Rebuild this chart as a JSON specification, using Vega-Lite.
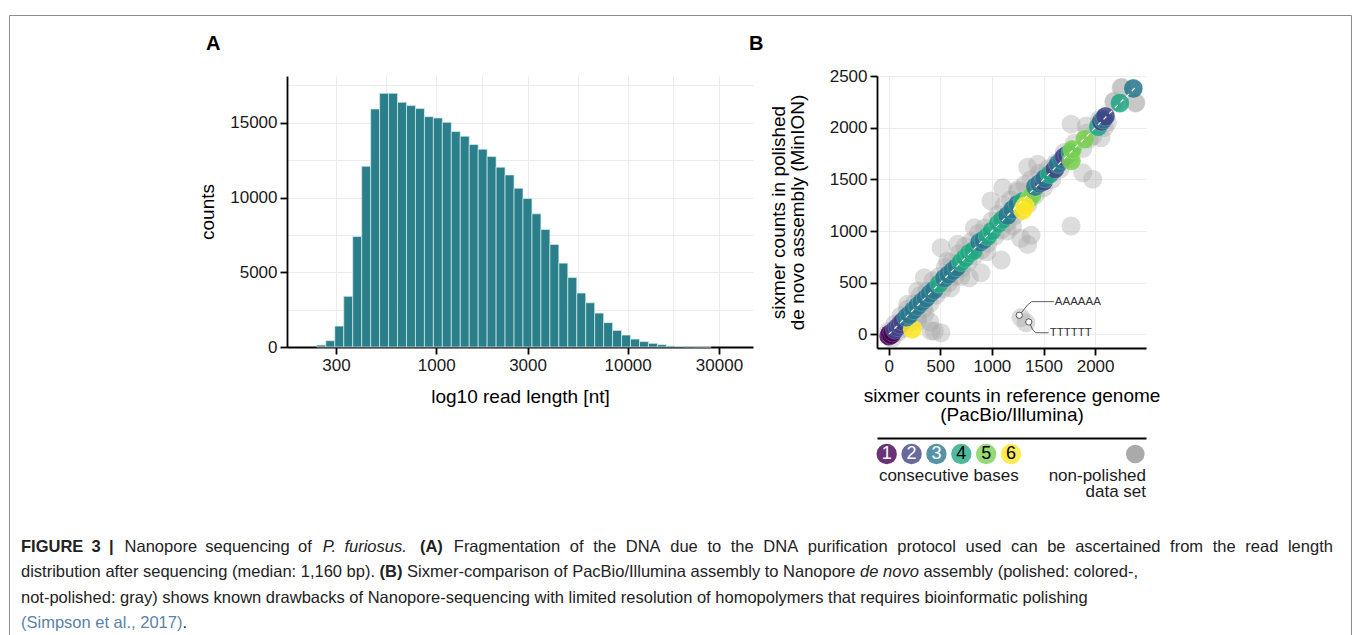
{
  "$schema": "https://vega.github.io/schema/vega-lite/v6.json",
  "background": "white",
  "padding": {"left": 8, "top": 14, "right": 0, "bottom": 0},
  "config": {
    "font": "Liberation Sans",
    "view": {"stroke": null},
    "axis": {"domainColor": "#000000", "domainWidth": 1.8, "tickColor": "#000000", "tickWidth": 1.8, "tickSize": 7, "labelFontSize": 17, "labelColor": "#1a1a1a", "labelPadding": 3, "titleFontSize": 19, "titleFontWeight": "normal", "titleColor": "#000000", "gridColor": "#ececec", "gridWidth": 1, "labelFlush": false, "labelOverlap": false},
    "title": {"font": "Liberation Sans", "fontSize": 20, "fontWeight": "bold", "color": "#000000"}
  },
  "datasets": {
    "hist": [
      {"lo": 238.2, "hi": 265.3, "count": 130}, {"lo": 265.3, "hi": 295.5, "count": 420}, {"lo": 295.5, "hi": 329.1, "count": 1400}, {"lo": 329.1, "hi": 366.6, "count": 3390},
      {"lo": 366.6, "hi": 408.3, "count": 7390}, {"lo": 408.3, "hi": 454.8, "count": 12090}, {"lo": 454.8, "hi": 506.5, "count": 15920}, {"lo": 506.5, "hi": 564.2, "count": 16970},
      {"lo": 564.2, "hi": 628.4, "count": 16970}, {"lo": 628.4, "hi": 699.8, "count": 16370}, {"lo": 699.8, "hi": 779.5, "count": 16150}, {"lo": 779.5, "hi": 868.2, "count": 15950},
      {"lo": 868.2, "hi": 967.0, "count": 15410}, {"lo": 967.0, "hi": 1077.0, "count": 15320}, {"lo": 1077.0, "hi": 1199.5, "count": 15030}, {"lo": 1199.5, "hi": 1336.0, "count": 14410},
      {"lo": 1336.0, "hi": 1488.0, "count": 14100}, {"lo": 1488.0, "hi": 1657.4, "count": 13540}, {"lo": 1657.4, "hi": 1846.0, "count": 13230}, {"lo": 1846.0, "hi": 2056.0, "count": 12740},
      {"lo": 2056.0, "hi": 2290.0, "count": 12030}, {"lo": 2290.0, "hi": 2551.0, "count": 11510}, {"lo": 2551.0, "hi": 2841.0, "count": 10620}, {"lo": 2841.0, "hi": 3164.5, "count": 9930},
      {"lo": 3164.5, "hi": 3524.5, "count": 8910}, {"lo": 3524.5, "hi": 3925.6, "count": 7860}, {"lo": 3925.6, "hi": 4372.4, "count": 6860}, {"lo": 4372.4, "hi": 4869.9, "count": 5610},
      {"lo": 4869.9, "hi": 5424.1, "count": 4650}, {"lo": 5424.1, "hi": 6039.5, "count": 3610}, {"lo": 6039.5, "hi": 6726.7, "count": 2960}, {"lo": 6726.7, "hi": 7492.2, "count": 2270},
      {"lo": 7492.2, "hi": 8344.7, "count": 1630}, {"lo": 8344.7, "hi": 9294.3, "count": 1110}, {"lo": 9294.3, "hi": 10351.9, "count": 800}, {"lo": 10351.9, "hi": 11529.9, "count": 530},
      {"lo": 11529.9, "hi": 12842, "count": 360}, {"lo": 12842, "hi": 14303, "count": 245}, {"lo": 14303, "hi": 15931, "count": 156}, {"lo": 15931, "hi": 17744, "count": 67},
      {"lo": 17744, "hi": 19763, "count": 35}, {"lo": 19763, "hi": 22012, "count": 18}, {"lo": 22012, "hi": 24517, "count": 10}, {"lo": 24517, "hi": 27307, "count": 5}
    ],
    "gray": [
      {"ref": 0, "pol": 30}, {"ref": 30, "pol": -40}, {"ref": 60, "pol": 100}, {"ref": 90, "pol": 20}, {"ref": 120, "pol": 180}, {"ref": 150, "pol": 60}, {"ref": 180, "pol": 240}, {"ref": 210, "pol": 120},
      {"ref": 250, "pol": 300}, {"ref": 280, "pol": 160}, {"ref": 310, "pol": 380}, {"ref": 340, "pol": 250}, {"ref": 370, "pol": 420}, {"ref": 400, "pol": 300}, {"ref": 430, "pol": 520}, {"ref": 460, "pol": 380},
      {"ref": 490, "pol": 560}, {"ref": 520, "pol": 440}, {"ref": 550, "pol": 650}, {"ref": 580, "pol": 500}, {"ref": 610, "pol": 700}, {"ref": 640, "pol": 560}, {"ref": 680, "pol": 780}, {"ref": 710, "pol": 640},
      {"ref": 740, "pol": 850}, {"ref": 770, "pol": 700}, {"ref": 800, "pol": 900}, {"ref": 830, "pol": 760}, {"ref": 870, "pol": 980}, {"ref": 900, "pol": 820}, {"ref": 930, "pol": 1030}, {"ref": 960, "pol": 880},
      {"ref": 1000, "pol": 1100}, {"ref": 1030, "pol": 950}, {"ref": 1060, "pol": 1160}, {"ref": 1090, "pol": 1010}, {"ref": 1120, "pol": 1250}, {"ref": 1150, "pol": 1080}, {"ref": 1180, "pol": 1300}, {"ref": 1220, "pol": 1150},
      {"ref": 1250, "pol": 1380}, {"ref": 1280, "pol": 1200}, {"ref": 1320, "pol": 1450}, {"ref": 1350, "pol": 1260}, {"ref": 1380, "pol": 1500}, {"ref": 1420, "pol": 1350}, {"ref": 1460, "pol": 1560}, {"ref": 1500, "pol": 1420},
      {"ref": 1540, "pol": 1600}, {"ref": 1580, "pol": 1500}, {"ref": 1620, "pol": 1660}, {"ref": 1660, "pol": 1600}, {"ref": 1700, "pol": 1760}, {"ref": 1750, "pol": 1700}, {"ref": 1800, "pol": 1850}, {"ref": 1880, "pol": 1800},
      {"ref": 1920, "pol": 1950}, {"ref": 1980, "pol": 1920}, {"ref": 2040, "pol": 2080}, {"ref": 2120, "pol": 2050}, {"ref": 2180, "pol": 2250}, {"ref": 2260, "pol": 2390}, {"ref": 2390, "pol": 2240},
      {"ref": 1767, "pol": 1049}, {"ref": 1379, "pol": 960}, {"ref": 1347, "pol": 870}, {"ref": 1280, "pol": 930}, {"ref": 1090, "pol": 720}, {"ref": 1104, "pol": 1420}, {"ref": 991, "pol": 1291}, {"ref": 1347, "pol": 1617},
      {"ref": 1444, "pol": 1647}, {"ref": 1913, "pol": 2017}, {"ref": 1767, "pol": 2035}, {"ref": 1941, "pol": 1890}, {"ref": 1977, "pol": 1501}, {"ref": 1880, "pol": 1565}, {"ref": 894, "pol": 597}, {"ref": 781, "pol": 549},
      {"ref": 507, "pol": 839}, {"ref": 572, "pol": 710}, {"ref": 345, "pol": 549}, {"ref": 281, "pol": 420}, {"ref": 184, "pol": 291}, {"ref": 830, "pol": 1033}, {"ref": 669, "pol": 872}, {"ref": 443, "pol": 33},
      {"ref": 507, "pol": 16}, {"ref": 410, "pol": 33}, {"ref": 281, "pol": 130}, {"ref": 1282, "pol": 162}, {"ref": 1330, "pol": 113}, {"ref": 2251, "pol": 2388}, {"ref": 2396, "pol": 2243}, {"ref": 2186, "pol": 2259},
      {"ref": 2089, "pol": 2001}, {"ref": 2057, "pol": 1904}, {"ref": 600, "pol": 450}, {"ref": 700, "pol": 560}, {"ref": 950, "pol": 800}, {"ref": 1150, "pol": 1000}, {"ref": 1200, "pol": 1050}, {"ref": 1250, "pol": 1400},
      {"ref": 400, "pol": 120}, {"ref": 350, "pol": 200}
    ],
    "colored": [
      {"ref": 0, "pol": -15, "k": 1}, {"ref": 10, "pol": 5, "k": 1}, {"ref": 25, "pol": -5, "k": 1}, {"ref": 40, "pol": 20, "k": 1}, {"ref": 60, "pol": 45, "k": 2}, {"ref": 85, "pol": 70, "k": 2},
      {"ref": 110, "pol": 95, "k": 2}, {"ref": 135, "pol": 125, "k": 2}, {"ref": 230, "pol": 50, "k": 6}, {"ref": 170, "pol": 165, "k": 3}, {"ref": 200, "pol": 190, "k": 3}, {"ref": 240, "pol": 235, "k": 3},
      {"ref": 280, "pol": 275, "k": 3}, {"ref": 320, "pol": 315, "k": 3}, {"ref": 360, "pol": 350, "k": 3}, {"ref": 400, "pol": 395, "k": 3}, {"ref": 440, "pol": 430, "k": 3}, {"ref": 490, "pol": 490, "k": 4},
      {"ref": 540, "pol": 545, "k": 3}, {"ref": 580, "pol": 580, "k": 3}, {"ref": 620, "pol": 615, "k": 3}, {"ref": 660, "pol": 650, "k": 3}, {"ref": 700, "pol": 700, "k": 4}, {"ref": 740, "pol": 740, "k": 4},
      {"ref": 780, "pol": 785, "k": 4}, {"ref": 820, "pol": 810, "k": 4}, {"ref": 880, "pol": 890, "k": 3}, {"ref": 920, "pol": 915, "k": 3}, {"ref": 960, "pol": 950, "k": 4}, {"ref": 1000, "pol": 1000, "k": 4},
      {"ref": 1060, "pol": 1070, "k": 4}, {"ref": 1100, "pol": 1110, "k": 4}, {"ref": 1150, "pol": 1150, "k": 3}, {"ref": 1200, "pol": 1210, "k": 3}, {"ref": 1250, "pol": 1260, "k": 3}, {"ref": 1300, "pol": 1290, "k": 4},
      {"ref": 1360, "pol": 1310, "k": 5}, {"ref": 1390, "pol": 1350, "k": 5}, {"ref": 1420, "pol": 1430, "k": 3}, {"ref": 1460, "pol": 1460, "k": 3}, {"ref": 1500, "pol": 1480, "k": 2}, {"ref": 1510, "pol": 1510, "k": 3},
      {"ref": 1560, "pol": 1550, "k": 4}, {"ref": 1610, "pol": 1600, "k": 2}, {"ref": 1640, "pol": 1650, "k": 3}, {"ref": 1680, "pol": 1690, "k": 3}, {"ref": 1700, "pol": 1720, "k": 2}, {"ref": 1730, "pol": 1740, "k": 2},
      {"ref": 1760, "pol": 1760, "k": 4}, {"ref": 1770, "pol": 1680, "k": 5}, {"ref": 1780, "pol": 1790, "k": 5}, {"ref": 1900, "pol": 1890, "k": 5}, {"ref": 2030, "pol": 2010, "k": 4}, {"ref": 2060, "pol": 2060, "k": 2},
      {"ref": 2080, "pol": 2080, "k": 3}, {"ref": 2100, "pol": 2110, "k": 2}, {"ref": 2240, "pol": 2240, "k": 4}, {"ref": 2370, "pol": 2380, "k": 3}, {"ref": 1300, "pol": 1200, "k": 6}, {"ref": 1320, "pol": 1240, "k": 6}
    ],
    "diag": [{"ref": 0, "pol": 0}, {"ref": 2410, "pol": 2410}],
    "conn": [
      {"label": "AAAAAA", "step": 1, "ref": 1278, "pol": 200}, {"label": "AAAAAA", "step": 2, "ref": 1345, "pol": 285}, {"label": "AAAAAA", "step": 3, "ref": 1385, "pol": 317}, {"label": "AAAAAA", "step": 4, "ref": 1600, "pol": 317},
      {"label": "TTTTTT", "step": 1, "ref": 1368, "pol": 103}, {"label": "TTTTTT", "step": 2, "ref": 1395, "pol": 45}, {"label": "TTTTTT", "step": 3, "ref": 1425, "pol": 16}, {"label": "TTTTTT", "step": 4, "ref": 1550, "pol": 16}
    ],
    "marks": [{"ref": 1265, "pol": 185}, {"ref": 1357, "pol": 120}],
    "labels": [{"label": "AAAAAA", "ref": 1600, "pol": 317}, {"label": "TTTTTT", "ref": 1550, "pol": 16}],
    "caption": [
      {"seg": "l1a", "line": 1, "txt": "FIGURE\u20023\u2002|"},
      {"seg": "l1b", "line": 1, "txt": "Nanopore\u2002sequencing\u2002of"},
      {"seg": "l1c", "line": 1, "txt": "P.\u2002furiosus."},
      {"seg": "l1d", "line": 1, "txt": "(A)"},
      {"seg": "l1e", "line": 1, "txt": "Fragmentation\u2002\u200aof\u2002\u200athe\u2002\u200aDNA\u2002\u200adue\u2002\u200ato\u2002\u200athe\u2002\u200aDNA\u2002\u200apurification\u2002\u200aprotocol\u2002\u200aused\u2002\u200acan\u2002\u200abe\u2002\u200aascertained\u2002\u200afrom\u2002\u200athe\u2002\u200aread\u2002\u200alength"},
      {"seg": "l2a", "line": 2, "txt": "distribution after sequencing (median: 1,160 bp)."},
      {"seg": "l2b", "line": 2, "txt": "(B)"},
      {"seg": "l2c", "line": 2, "txt": "Sixmer-comparison of PacBio/Illumina assembly to Nanopore"},
      {"seg": "l2d", "line": 2, "txt": "de novo"},
      {"seg": "l2e", "line": 2, "txt": "assembly (polished: colored-,"},
      {"seg": "l3a", "line": 3, "txt": "not-polished: gray) shows known drawbacks of Nanopore-sequencing with limited resolution of homopolymers that requires bioinformatic polishing"},
      {"seg": "l4a", "line": 4, "txt": "(Simpson et al., 2017)"},
      {"seg": "l4b", "line": 4, "txt": "."}
    ]
  },
  "bounds": "flush",
  "spacing": 0,
  "vconcat": [
    {
      "bounds": "flush",
      "spacing": 0,
      "vconcat": [
        {"width": 10, "height": 61, "data": {"values": [{}]}, "mark": {"type": "text"}, "encoding": {"text": {"value": ""}}},
        {
          "bounds": "flush",
          "spacing": 124,
          "hconcat": [
            {"width": 154, "height": 10, "data": {"values": [{}]}, "mark": {"type": "text"}, "encoding": {"text": {"value": ""}}},
            {
              "width": 466,
              "height": 271,
              "title": {"text": "A", "anchor": "start", "frame": "group", "dx": -81, "offset": 22},
              "data": {"name": "hist"},
              "mark": {"type": "bar", "fill": "#2a7f8a", "stroke": "#d9eef0", "strokeWidth": 0.7},
              "encoding": {
                "x": {"field": "lo", "type": "quantitative", "scale": {"type": "log", "domain": [166.3, 45150], "nice": false},
                  "axis": {"title": "log10 read length [nt]", "values": [300, 547.7, 1000, 1732, 3000, 5477, 10000, 17320, 30000],
                    "labelExpr": "indexof([300,1000,3000,10000,30000], datum.value) >= 0 ? format(datum.value, 'd') : ''",
                    "tickOpacity": {"condition": {"test": "indexof([300,1000,3000,10000,30000], datum.value) >= 0", "value": 1}, "value": 0},
                    "titlePadding": 14}},
                "x2": {"field": "hi"},
                "y": {"field": "count", "type": "quantitative", "scale": {"domain": [0, 18128], "nice": false},
                  "axis": {"title": "counts", "values": [0, 2500, 5000, 7500, 10000, 12500, 15000, 17500],
                    "labelExpr": "datum.value % 5000 == 0 ? format(datum.value, 'd') : ''",
                    "tickOpacity": {"condition": {"test": "datum.value % 5000 == 0", "value": 1}, "value": 0},
                    "titlePadding": 12}},
                "y2": {"datum": 0}
              }
            },
            {
              "bounds": "flush",
              "spacing": 90,
              "vconcat": [
                {
                  "width": 269,
                  "height": 272,
                  "title": {"text": "B", "anchor": "start", "frame": "group", "dx": -128, "offset": 13},
                  "encoding": {
                    "x": {"field": "ref", "type": "quantitative", "scale": {"domain": [-113.4, 2493], "nice": false, "zero": false},
                      "axis": {"title": ["sixmer counts in reference genome", "(PacBio/Illumina)"], "values": [0, 500, 1000, 1500, 2000], "format": "d", "titlePadding": 12, "titleLineHeight": 19}},
                    "y": {"field": "pol", "type": "quantitative", "scale": {"domain": [-131.7, 2501], "nice": false, "zero": false},
                      "axis": {"title": ["sixmer counts in polished", "de novo assembly (MinION)"], "values": [0, 500, 1000, 1500, 2000, 2500], "format": "d", "titlePadding": 22, "titleLineHeight": 19}}
                  },
                  "layer": [
                    {"data": {"name": "gray"}, "mark": {"type": "circle", "size": 360, "color": "#a8a8a8", "opacity": 0.4}},
                    {"data": {"name": "colored"}, "mark": {"type": "circle", "size": 360, "opacity": 0.88, "stroke": "#ffffff", "strokeWidth": 0.6, "strokeOpacity": 0.35},
                      "encoding": {"color": {"field": "k", "type": "ordinal", "scale": {"domain": [1, 2, 3, 4, 5, 6], "range": ["#440154", "#414487", "#2a788e", "#22a884", "#7ad151", "#fde725"]}, "legend": null}}},
                    {"data": {"name": "diag"}, "mark": {"type": "line", "color": "#ffffff", "strokeWidth": 1.2, "strokeDash": [4, 4]}},
                    {"data": {"name": "conn"}, "mark": {"type": "line", "color": "#333333", "strokeWidth": 0.8}, "encoding": {"detail": {"field": "label"}, "order": {"field": "step"}}},
                    {"data": {"name": "marks"}, "mark": {"type": "point", "shape": "circle", "fill": "#ffffff", "stroke": "#444444", "strokeWidth": 0.9, "size": 40, "opacity": 1}},
                    {"data": {"name": "labels"}, "mark": {"type": "text", "align": "left", "baseline": "middle", "dx": 1, "fontSize": 11.5, "color": "#333333"}, "encoding": {"text": {"field": "label"}}}
                  ]
                },
                {
                  "width": 269,
                  "height": 60,
                  "data": {"values": [{"k": 1}, {"k": 2}, {"k": 3}, {"k": 4}, {"k": 5}, {"k": 6}]},
                  "layer": [
                    {"mark": {"type": "circle", "size": 415, "opacity": 0.8},
                      "encoding": {
                        "x": {"field": "k", "type": "quantitative", "scale": {"domain": [0.61, 11.43], "nice": false, "zero": false},
                          "axis": {"orient": "top", "labels": false, "ticks": false, "grid": false, "title": null, "domainColor": "#000000", "domainWidth": 2}},
                        "y": {"datum": 16, "type": "quantitative", "scale": {"domain": [0, 60], "reverse": true, "nice": false, "zero": false}, "axis": null},
                        "color": {"field": "k", "type": "ordinal", "scale": {"domain": [1, 2, 3, 4, 5, 6], "range": ["#440154", "#414487", "#2a788e", "#22a884", "#7ad151", "#fde725"]}, "legend": null}}},
                    {"mark": {"type": "text", "fontSize": 18, "align": "center", "baseline": "middle"},
                      "encoding": {
                        "x": {"field": "k", "type": "quantitative"},
                        "y": {"datum": 16, "type": "quantitative"},
                        "text": {"field": "k"},
                        "color": {"condition": {"test": "datum.k <= 3", "value": "#ffffff"}, "value": "#000000"}}},
                    {"data": {"values": [{"item": "non-polished data set"}]}, "mark": {"type": "circle", "size": 346, "color": "#aaaaaa", "opacity": 1},
                      "encoding": {"x": {"datum": 11, "type": "quantitative"}, "y": {"datum": 16, "type": "quantitative"}}},
                    {"data": {"values": [{"t": "consecutive bases"}]}, "mark": {"type": "text", "fontSize": 17, "align": "center", "baseline": "middle", "color": "#1a1a1a"},
                      "encoding": {"x": {"datum": 3.5, "type": "quantitative"}, "y": {"datum": 37.7, "type": "quantitative"}, "text": {"field": "t"}}},
                    {"data": {"values": [{"t": "non-polished"}]}, "mark": {"type": "text", "fontSize": 17, "align": "right", "baseline": "middle", "color": "#1a1a1a"},
                      "encoding": {"x": {"datum": 11.43, "type": "quantitative"}, "y": {"datum": 37.7, "type": "quantitative"}, "text": {"field": "t"}}},
                    {"data": {"values": [{"t": "data set"}]}, "mark": {"type": "text", "fontSize": 17, "align": "right", "baseline": "middle", "color": "#1a1a1a"},
                      "encoding": {"x": {"datum": 11.43, "type": "quantitative"}, "y": {"datum": 54.4, "type": "quantitative"}, "text": {"field": "t"}}}
                  ]
                }
              ]
            }
          ]
        }
      ]
    },
    {
      "width": 1342,
      "height": 640,
      "view": {"stroke": "#8c8c8c", "strokeWidth": 1},
      "data": {"name": "caption"},
      "encoding": {
        "x": {"value": 0},
        "y": {"field": "line", "type": "quantitative", "scale": {"domain": [-20.03, 5.27], "reverse": true, "nice": false, "zero": false}, "axis": null}
      },
      "layer": [
        {"transform": [{"filter": "datum.seg == 'l1a'"}], "mark": {"type": "text", "align": "left", "baseline": "middle", "dx": 12, "fontSize": 16.5, "fontWeight": "bold", "color": "#222222"}, "encoding": {"text": {"field": "txt"}}},
        {"transform": [{"filter": "datum.seg == 'l1b'"}], "mark": {"type": "text", "align": "left", "baseline": "middle", "dx": 115.6, "fontSize": 16.5, "color": "#222222"}, "encoding": {"text": {"field": "txt"}}},
        {"transform": [{"filter": "datum.seg == 'l1c'"}], "mark": {"type": "text", "align": "left", "baseline": "middle", "dx": 313.7, "fontSize": 16.5, "fontStyle": "italic", "color": "#222222"}, "encoding": {"text": {"field": "txt"}}},
        {"transform": [{"filter": "datum.seg == 'l1d'"}], "mark": {"type": "text", "align": "left", "baseline": "middle", "dx": 410.9, "fontSize": 16.5, "fontWeight": "bold", "color": "#222222"}, "encoding": {"text": {"field": "txt"}}},
        {"transform": [{"filter": "datum.seg == 'l1e'"}], "mark": {"type": "text", "align": "left", "baseline": "middle", "dx": 444.8, "fontSize": 16.5, "color": "#222222"}, "encoding": {"text": {"field": "txt"}}},
        {"transform": [{"filter": "datum.seg == 'l2a' || datum.seg == 'l3a'"}], "mark": {"type": "text", "align": "left", "baseline": "middle", "dx": 12, "fontSize": 16.5, "color": "#222222"}, "encoding": {"text": {"field": "txt"}}},
        {"transform": [{"filter": "datum.seg == 'l2b'"}], "mark": {"type": "text", "align": "left", "baseline": "middle", "dx": 370.6, "fontSize": 16.5, "fontWeight": "bold", "color": "#222222"}, "encoding": {"text": {"field": "txt"}}},
        {"transform": [{"filter": "datum.seg == 'l2c'"}], "mark": {"type": "text", "align": "left", "baseline": "middle", "dx": 398.1, "fontSize": 16.5, "color": "#222222"}, "encoding": {"text": {"field": "txt"}}},
        {"transform": [{"filter": "datum.seg == 'l2d'"}], "mark": {"type": "text", "align": "left", "baseline": "middle", "dx": 851.1, "fontSize": 16.5, "fontStyle": "italic", "color": "#222222"}, "encoding": {"text": {"field": "txt"}}},
        {"transform": [{"filter": "datum.seg == 'l2e'"}], "mark": {"type": "text", "align": "left", "baseline": "middle", "dx": 914.4, "fontSize": 16.5, "color": "#222222"}, "encoding": {"text": {"field": "txt"}}},
        {"transform": [{"filter": "datum.seg == 'l4a'"}], "mark": {"type": "text", "align": "left", "baseline": "middle", "dx": 12, "fontSize": 16.5, "color": "#5b82aa"}, "encoding": {"text": {"field": "txt"}}},
        {"transform": [{"filter": "datum.seg == 'l4b'"}], "mark": {"type": "text", "align": "left", "baseline": "middle", "dx": 173.4, "fontSize": 16.5, "color": "#222222"}, "encoding": {"text": {"field": "txt"}}}
      ]
    }
  ]
}
